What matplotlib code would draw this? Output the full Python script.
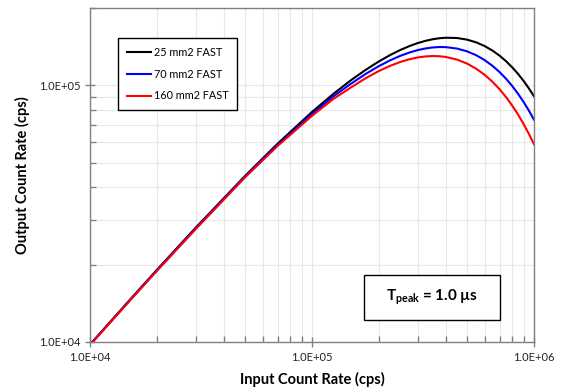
import matplotlib
matplotlib.use("Agg")
import matplotlib.pyplot as plt
from matplotlib.patches import Rectangle
from matplotlib.ticker import LogLocator, FuncFormatter, NullFormatter

plt.rcParams["font.family"] = ["Lato", "DejaVu Sans"]
plt.rcParams["mathtext.fontset"] = "custom"
plt.rcParams["mathtext.rm"] = "Lato"
plt.rcParams["mathtext.bf"] = "Lato:bold"

# --- data ---
icr = [1e4, 1.5e4, 2e4, 3e4, 5e4, 7e4, 1e5, 1.25e5, 1.5e5, 1.75e5, 2e5,
       2.25e5, 2.5e5, 2.75e5, 3e5, 3.25e5, 3.5e5, 3.75e5, 4e5, 4.5e5, 5e5,
       5.5e5, 6e5, 6.5e5, 7e5, 7.5e5, 8e5, 8.5e5, 9e5, 9.5e5, 1e6]
ocr_25 = [9763, 14469, 19063, 27916, 44346, 59178, 78663, 92602, 104655,
          114979, 123758, 131109, 137203, 142140, 146030, 148985, 151110,
          152470, 153164, 152822, 150597, 146917, 142152, 136575, 130465,
          123986, 117283, 110511, 103772, 97152, 90718]
ocr_70 = [9742, 14424, 18983, 27740, 44100, 58600, 77300, 90600, 101406,
          110830, 118665, 125055, 130178, 134145, 137100, 139133, 140381,
          140925, 140807, 139032, 135577, 130900, 125325, 119145, 112627,
          105900, 99150, 92480, 85921, 79590, 73509]
ocr_160 = [9721, 14377, 18900, 27558, 43800, 58000, 76000, 88500, 98110,
           106645, 113569, 119025, 123236, 126280, 128352, 129545, 129981,
           129750, 128964, 125937, 121474, 115960, 109836, 103260, 96559,
           89830, 83128, 76690, 70467, 64590, 58990]
labels = ["25 mm2 FAST", "70 mm2 FAST", "160 mm2 FAST"]
colors = ["black", "#0000ff", "#ff0000"]

fig = plt.figure(figsize=(5.62, 3.92), dpi=100)
ax = fig.add_axes([0.160, 0.1276, 0.790, 0.852])

for y, lab, c in zip([ocr_25, ocr_70, ocr_160], labels, colors):
    ax.plot(icr, y, color=c, lw=1.5, label=lab)

ax.set_xscale("log")
ax.set_yscale("log")
ax.set_xlim(1e4, 1e6)
ax.set_ylim(1e4, 2e5)

fmt = FuncFormatter(lambda v, p: f"{v:.1E}")
for axis in (ax.xaxis, ax.yaxis):
    axis.set_major_locator(LogLocator(base=10, numticks=10))
    axis.set_minor_locator(LogLocator(base=10, subs=range(2, 10), numticks=20))
    axis.set_major_formatter(fmt)
    axis.set_minor_formatter(NullFormatter())

ax.grid(which="both", color="#e8e8e8", lw=0.8)
ax.set_axisbelow(True)
ax.tick_params(which="major", direction="inout", length=7, width=1,
               color="#808080", labelsize=8, labelcolor="#222222")
ax.tick_params(which="minor", direction="in", length=4, width=1,
               color="#808080")
for s in ax.spines.values():
    s.set_color("#808080")
    s.set_linewidth(1)

ax.set_xlabel("Input Count Rate (cps)", fontsize=10.5, fontweight="bold",
              labelpad=7)
ax.set_ylabel("Output Count Rate (cps)", fontsize=10.5, fontweight="bold",
              labelpad=6)

leg = ax.legend(loc="upper left", bbox_to_anchor=(0.063, 0.91),
                borderaxespad=0, fontsize=7.8, handlelength=2.3,
                handletextpad=0.2, labelspacing=1.0, fancybox=False,
                framealpha=1, borderpad=0.8)
leg.get_frame().set_edgecolor("black")
leg.get_frame().set_linewidth(1)

# T_peak box
ax.add_patch(Rectangle((0.617, 0.066), 0.306, 0.135, transform=ax.transAxes,
                       facecolor="white", edgecolor="black", lw=1, zorder=5))
ax.text(0.77, 0.134, r"$\mathbf{T_{peak}}$" + " = 1.0 µs",
        transform=ax.transAxes, ha="center", va="center", fontsize=11,
        fontweight="bold", zorder=6)

fig.savefig("out.png", dpi=100)
